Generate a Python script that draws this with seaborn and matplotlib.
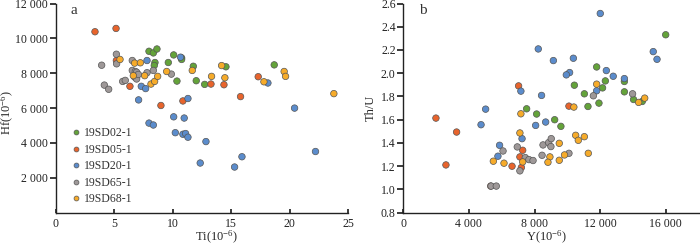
import numpy as np
import pandas as pd
import seaborn as sns
import matplotlib.pyplot as plt
from matplotlib.ticker import FuncFormatter

# sample names and colours
samples = ["19SD02-1", "19SD05-1", "19SD20-1", "19SD65-1", "19SD68-1"]
colors = ["#64a33a", "#e8642c", "#5b8ccc", "#9e9898", "#f6ab2a"]

# panel a: Ti vs Hf (10^-6)
ti_02 = [7.98, 8.35, 8.66, 8.49, 8.43, 10.09, 10.77, 10.77, 9.63, 10.37, 11.77, 12.02, 12.74, 14.56, 18.69]
hf_02 = [9260, 9165, 9390, 8615, 8444, 9050, 8880, 8790, 8615, 7550, 8400, 7570, 7360, 8370, 8480]
ti_05 = [3.36, 5.16, 5.19, 6.35, 9.0, 10.88, 13.28, 14.39, 17.32, 15.81]
hf_05 = [10380, 10570, 8730, 7250, 6150, 6410, 7380, 7340, 7800, 6660]
ti_20 = [7.81, 10.68, 7.09, 7.32, 7.69, 7.98, 8.35, 10.09, 10.99, 11.31, 10.23, 10.88, 11.11,
         11.31, 12.85, 12.36, 15.3, 15.93, 18.15, 20.43, 22.22]
hf_20 = [8730, 8920, 6470, 7250, 7120, 5140, 5030, 5500, 5430, 6550, 4590, 4500, 4540,
         4330, 4080, 2850, 2620, 3210, 7440, 6000, 3510]
ti_65 = [3.93, 4.16, 4.53, 5.19, 5.21, 5.73, 5.95, 6.55, 6.55, 6.81, 6.92, 6.75, 6.92, 7.07, 7.81, 8.35, 9.89]
hf_65 = [8460, 7320, 7080, 9090, 8540, 7530, 7590, 8730, 8160, 8100, 8060, 7780, 7670, 7930, 8030, 8160, 7950]
ti_68 = [5.5, 6.75, 7.24, 6.64, 7.61, 8.15, 8.46, 8.72, 9.49, 11.68, 13.33, 14.19, 14.47,
         17.81, 19.54, 19.66, 23.79]
hf_68 = [8790, 8580, 8600, 7860, 7860, 7380, 7530, 7820, 8100, 8160, 7820, 8440, 7740,
         7510, 8100, 7820, 6830]

# panel b: Y (10^-6) vs Th/U
y_02 = [16000, 11790, 12320, 12150, 13480, 13480, 10430, 11040, 11260, 11930, 14040, 14570,
        7520, 8130, 9230, 9610]
thu_02 = [2.331, 2.054, 1.934, 1.874, 1.929, 1.84, 1.897, 1.823, 1.714, 1.743, 1.774, 1.757,
          1.694, 1.649, 1.6, 1.543]
y_05 = [1990, 3250, 2600, 7030, 10100, 7280, 7110, 7200, 6630, 5330]
thu_05 = [1.614, 1.494, 1.211, 1.891, 1.717, 1.337, 1.28, 1.189, 1.2, 1.029]
y_20 = [12010, 8230, 9150, 10370, 10140, 9940, 12380, 12800, 13480, 15240, 15470, 11790,
        7170, 8430, 5020, 4740, 8070, 8680, 5870, 5770, 7240]
thu_20 = [2.514, 2.209, 2.109, 2.129, 2.006, 1.986, 2.023, 1.974, 1.954, 2.186, 2.12, 1.849,
          1.846, 1.809, 1.691, 1.557, 1.551, 1.58, 1.38, 1.286, 1.437]
y_65 = [13980, 11590, 6950, 6080, 7440, 7660, 7910, 7110, 5350, 5670, 8520, 8860, 9020,
        9000, 8460, 10100]
thu_65 = [1.823, 1.806, 1.366, 1.331, 1.274, 1.257, 1.249, 1.16, 1.029, 1.029, 1.383, 1.403,
          1.437, 1.369, 1.294, 1.311]
y_68 = [11790, 10400, 7170, 7110, 9510, 10510, 10670, 11040, 11280, 9830, 8940, 9510, 8820,
        7280, 5490, 6140, 14350, 14720]
thu_68 = [1.906, 1.709, 1.651, 1.486, 1.397, 1.466, 1.423, 1.454, 1.311, 1.297, 1.28, 1.251,
          1.234, 1.237, 1.243, 1.226, 1.749, 1.786]

a_frames = []
for name, xs, ys in zip(samples, [ti_02, ti_05, ti_20, ti_65, ti_68],
                        [hf_02, hf_05, hf_20, hf_65, hf_68]):
    a_frames.append(pd.DataFrame({"Ti": xs, "Hf": ys, "sample": name}))
df_a = pd.concat(a_frames, ignore_index=True)

b_frames = []
for name, xs, ys in zip(samples, [y_02, y_05, y_20, y_65, y_68],
                        [thu_02, thu_05, thu_20, thu_65, thu_68]):
    b_frames.append(pd.DataFrame({"Y": xs, "ThU": ys, "sample": name}))
df_b = pd.concat(b_frames, ignore_index=True)

sns.set_theme(style="ticks")
plt.rcParams["font.family"] = ["Liberation Serif", "DejaVu Serif"]
plt.rcParams["mathtext.fontset"] = "custom"
plt.rcParams["mathtext.rm"] = "Liberation Serif"
plt.rcParams["mathtext.it"] = "Liberation Serif"
plt.rcParams["font.size"] = 8.5
plt.rcParams["axes.linewidth"] = 1.0
plt.rcParams["axes.edgecolor"] = "#222222"
plt.rcParams["text.color"] = "#333333"
plt.rcParams["xtick.color"] = "#222222"
plt.rcParams["ytick.color"] = "#222222"

fig = plt.figure(figsize=(7, 2.48), dpi=100)
ax1 = fig.add_axes([55.7 / 700, (248 - 212.7) / 248, (348 - 55.7) / 700, (212.7 - 3.5) / 248])
ax2 = fig.add_axes([403.3 / 700, (248 - 212.7) / 248, (698.5 - 403.3) / 700, (212.7 - 3.5) / 248])

palette = dict(zip(samples, colors))
kw = dict(hue="sample", palette=palette, s=22, edgecolor="#555555", linewidth=0.5)

sns.scatterplot(data=df_a, x="Ti", y="Hf", ax=ax1, legend=True, **kw)
sns.scatterplot(data=df_b, x="Y", y="ThU", ax=ax2, legend=False, **kw)

space_fmt = FuncFormatter(lambda v, p: "{:,.0f}".format(v).replace(",", " "))

ax1.set_xlim(0, 25)
ax1.set_ylim(0, 12000)
ax1.set_xticks([0, 5, 10, 15, 20, 25])
ax1.set_yticks([2000, 4000, 6000, 8000, 10000, 12000])
ax1.yaxis.set_major_formatter(space_fmt)
ax1.set_xlabel(r"Ti(10$^{-6}$)", fontsize=9)
ax1.set_ylabel(r"Hf(10$^{-6}$)", fontsize=9)
ax1.xaxis.set_label_coords(0.55, -0.08)
ax1.yaxis.set_label_coords((16.5 - 55.7) / 292, 0.48)
ax1.text(0.063, 0.965, "a", transform=ax1.transAxes, fontsize=11, va="center", ha="center")

ax2.set_xlim(0, 18000)
ax2.set_ylim(0.8, 2.6)
ax2.set_xticks([0, 4000, 8000, 12000, 16000])
ax2.set_yticks(np.arange(0.8, 2.61, 0.2))
ax2.xaxis.set_major_formatter(space_fmt)
ax2.yaxis.set_major_formatter(FuncFormatter(lambda v, p: "{:.1f}".format(v)))
ax2.set_xlabel(r"Y(10$^{-6}$)", fontsize=9)
ax2.set_ylabel("Th/U", fontsize=9)
ax2.xaxis.set_label_coords(0.485, -0.08)
ax2.yaxis.set_label_coords((377 - 403.3) / 295, 0.5)
ax2.text(0.067, 0.965, "b", transform=ax2.transAxes, fontsize=11, va="center", ha="center")

for ax in (ax1, ax2):
    sns.despine(ax=ax)
    ax.tick_params(axis="x", direction="in", length=3, labelsize=8.5, pad=4)
    ax.tick_params(axis="y", direction="out", length=4, labelsize=8.5, pad=1.5)

leg = ax1.legend(loc="lower left", bbox_to_anchor=(0.052, 0.035), frameon=False,
                 handlelength=0.8, handletextpad=0.3, labelspacing=0.38, borderaxespad=0,
                 borderpad=0, fontsize=8.5, markerscale=0.75)

fig.savefig("out.png", dpi=100)
